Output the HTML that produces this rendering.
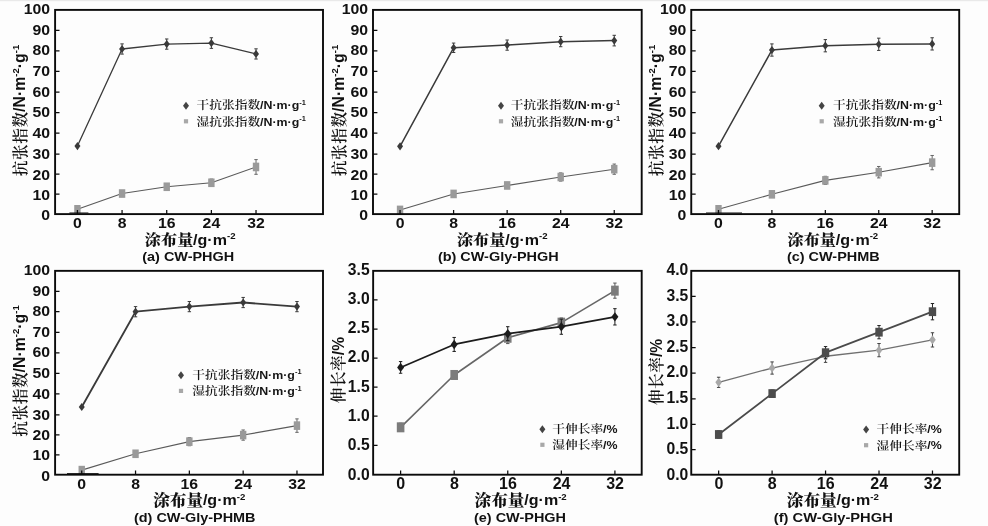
<!DOCTYPE html>
<html lang="zh"><head><meta charset="utf-8"><title>Figure</title>
<style>html,body{margin:0;padding:0;background:#fdfdfd;}body{width:988px;height:526px;overflow:hidden;}svg{display:block;will-change:transform;}</style>
</head><body>
<svg width="988" height="526" viewBox="0 0 988 526">
<rect x="0" y="0" width="988" height="526" fill="#fdfdfd"/>
<rect x="0" y="0" width="988" height="1.2" fill="#e9e9e9"/>
<g>
<polyline fill="none" stroke="#5a5a5a" stroke-width="1.1" stroke-linejoin="round" points="77.42,209.31 122.07,193.53 166.72,186.76 211.38,182.78 256.02,166.95"/>
<path d="M77.42 206.24V212.37M75.72 206.24H79.12M75.72 212.37H79.12M122.07 190.47V196.6M120.37 190.47H123.77M120.37 196.6H123.77M166.72 183.7V189.82M165.03 183.7H168.42M165.03 189.82H168.42M211.38 179.1V186.45M209.68 179.1H213.07M209.68 186.45H213.07M256.02 159.6V174.3M254.32 159.6H257.72M254.32 174.3H257.72" stroke="#666" stroke-width="1" fill="none"/>
<rect x="74.22" y="205.01" width="6.4" height="8.6" fill="#9a9a9a"/>
<rect x="118.87" y="189.23" width="6.4" height="8.6" fill="#9a9a9a"/>
<rect x="163.53" y="182.46" width="6.4" height="8.6" fill="#9a9a9a"/>
<rect x="208.18" y="178.48" width="6.4" height="8.6" fill="#9a9a9a"/>
<rect x="252.82" y="162.65" width="6.4" height="8.6" fill="#9a9a9a"/>
<polyline fill="none" stroke="#3a3a3a" stroke-width="1.3" stroke-linejoin="round" points="77.42,146.09 122.07,49 166.72,44.08 211.38,43.06 256.02,53.93"/>
<path d="M122.07 43.89V54.1M120.37 43.89H123.77M120.37 54.1H123.77M166.72 38.98V49.19M165.03 38.98H168.42M165.03 49.19H168.42M211.38 37.75V48.37M209.68 37.75H213.07M209.68 48.37H213.07M256.02 48.83V59.04M254.32 48.83H257.72M254.32 59.04H257.72" stroke="#3a3a3a" stroke-width="1" fill="none"/>
<path d="M77.42 141.99L80.42 146.09L77.42 150.19L74.42 146.09Z" fill="#3a3a3a"/>
<path d="M122.07 44.9L125.07 49L122.07 53.1L119.07 49Z" fill="#3a3a3a"/>
<path d="M166.72 39.98L169.72 44.08L166.72 48.18L163.72 44.08Z" fill="#3a3a3a"/>
<path d="M211.38 38.96L214.38 43.06L211.38 47.16L208.38 43.06Z" fill="#3a3a3a"/>
<path d="M256.02 49.83L259.02 53.93L256.02 58.03L253.02 53.93Z" fill="#3a3a3a"/>
<rect x="55.1" y="9.9" width="267.9" height="204.2" fill="none" stroke="#0b0b0b" stroke-width="1.9"/>
<path d="M69.4 212.95H88.4" stroke="#0b0b0b" stroke-width="0.9" fill="none"/>
<path d="M77.42 214.1v-4.2M122.07 214.1v-4.2M166.72 214.1v-4.2M211.38 214.1v-4.2M256.02 214.1v-4.2M55.1 194.13h4.4M55.1 174.21h4.4M55.1 154.04h4.4M55.1 133.12h4.4M55.1 112.6h4.4M55.1 92.08h4.4M55.1 71.46h4.4M55.1 50.84h4.4M55.1 30.37h4.4" stroke="#0b0b0b" stroke-width="1.25" fill="none"/>
<text transform="translate(77.42 228) scale(1.02 1)" text-anchor="middle" font-family='"Liberation Sans", sans-serif' font-weight="bold" font-size="15.5" fill="#111">0</text>
<text transform="translate(122.07 228) scale(1.02 1)" text-anchor="middle" font-family='"Liberation Sans", sans-serif' font-weight="bold" font-size="15.5" fill="#111">8</text>
<text transform="translate(166.72 228) scale(1.02 1)" text-anchor="middle" font-family='"Liberation Sans", sans-serif' font-weight="bold" font-size="15.5" fill="#111">16</text>
<text transform="translate(211.38 228) scale(1.02 1)" text-anchor="middle" font-family='"Liberation Sans", sans-serif' font-weight="bold" font-size="15.5" fill="#111">24</text>
<text transform="translate(256.02 228) scale(1.02 1)" text-anchor="middle" font-family='"Liberation Sans", sans-serif' font-weight="bold" font-size="15.5" fill="#111">32</text>
<text transform="translate(50.1 219.9) scale(1.02 1)" text-anchor="end" font-family='"Liberation Sans", sans-serif' font-weight="bold" font-size="15.5" fill="#111">0</text>
<text transform="translate(50.1 199.69) scale(1.02 1)" text-anchor="end" font-family='"Liberation Sans", sans-serif' font-weight="bold" font-size="15.5" fill="#111">10</text>
<text transform="translate(50.1 179.53) scale(1.02 1)" text-anchor="end" font-family='"Liberation Sans", sans-serif' font-weight="bold" font-size="15.5" fill="#111">20</text>
<text transform="translate(50.1 159.12) scale(1.02 1)" text-anchor="end" font-family='"Liberation Sans", sans-serif' font-weight="bold" font-size="15.5" fill="#111">30</text>
<text transform="translate(50.1 137.96) scale(1.02 1)" text-anchor="end" font-family='"Liberation Sans", sans-serif' font-weight="bold" font-size="15.5" fill="#111">40</text>
<text transform="translate(50.1 117.2) scale(1.02 1)" text-anchor="end" font-family='"Liberation Sans", sans-serif' font-weight="bold" font-size="15.5" fill="#111">50</text>
<text transform="translate(50.1 96.68) scale(1.02 1)" text-anchor="end" font-family='"Liberation Sans", sans-serif' font-weight="bold" font-size="15.5" fill="#111">60</text>
<text transform="translate(50.1 76.06) scale(1.02 1)" text-anchor="end" font-family='"Liberation Sans", sans-serif' font-weight="bold" font-size="15.5" fill="#111">70</text>
<text transform="translate(50.1 55.44) scale(1.02 1)" text-anchor="end" font-family='"Liberation Sans", sans-serif' font-weight="bold" font-size="15.5" fill="#111">80</text>
<text transform="translate(50.1 34.97) scale(1.02 1)" text-anchor="end" font-family='"Liberation Sans", sans-serif' font-weight="bold" font-size="15.5" fill="#111">90</text>
<text transform="translate(50.1 14) scale(1.02 1)" text-anchor="end" font-family='"Liberation Sans", sans-serif' font-weight="bold" font-size="15.5" fill="#111">100</text>
<text transform="translate(193.3 245.2) scale(1.07 1)" text-anchor="end" font-family='"Liberation Serif", "Noto Serif CJK SC", serif' font-weight="900" font-size="15.1" fill="#111">涂布量</text>
<text transform="translate(193.1 244.6) scale(1.1 1)" text-anchor="start" font-family='"Liberation Sans", sans-serif' font-weight="bold" font-size="14.6" fill="#111">/g·m<tspan dy="-5.55" font-size="8.76">-2</tspan></text>
<text transform="translate(188.2 260.9) scale(1.07 1)" text-anchor="middle" font-family='"Liberation Sans", sans-serif' font-weight="bold" font-size="13.5" fill="#111">(a) CW-PHGH</text>
<g transform="translate(25.2 111.9) rotate(-90)" fill="#111">
<text x="0.5" y="0.8" text-anchor="end" font-family='"Liberation Serif", "Noto Serif CJK SC", serif' font-weight="600" font-size="15.6" letter-spacing="0.6">抗张指数</text>
<text x="0" y="0" font-family='"Liberation Sans", sans-serif' font-weight="bold" font-size="15.85">/N·m<tspan dy="-6.02" font-size="9.51">-2</tspan><tspan dy="6.02">·g</tspan><tspan dy="-6.02" font-size="9.51">-1</tspan></text>
</g>
<path d="M186 101.7L189 105.7L186 109.7L183 105.7Z" fill="#444"/>
<text transform="translate(196.6 109.4) scale(1.07 1)" text-anchor="start" font-family='"Liberation Serif", "Noto Serif CJK SC", serif' font-weight="600" font-size="11.9" fill="#151515">干抗张指数</text>
<text transform="translate(260 109.1) scale(1.06 1)" text-anchor="start" font-family='"Liberation Sans", sans-serif' font-weight="bold" font-size="11.7" fill="#151515">/N·m·g<tspan dy="-4.45" font-size="7.02">-1</tspan></text>
<rect x="183.9" y="119.2" width="4.2" height="4.2" fill="#a8a8a8"/>
<text transform="translate(196.6 125.8) scale(1.07 1)" text-anchor="start" font-family='"Liberation Serif", "Noto Serif CJK SC", serif' font-weight="600" font-size="11.9" fill="#151515">湿抗张指数</text>
<text transform="translate(260 125.5) scale(1.06 1)" text-anchor="start" font-family='"Liberation Sans", sans-serif' font-weight="bold" font-size="11.7" fill="#151515">/N·m·g<tspan dy="-4.45" font-size="7.02">-1</tspan></text>
</g>
<g>
<polyline fill="none" stroke="#5a5a5a" stroke-width="1.1" stroke-linejoin="round" points="400.04,209.91 453.6,193.93 507.15,185.46 560.7,177 614.25,169.17"/>
<path d="M400.04 207.46V212.36M398.34 207.46H401.74M398.34 212.36H401.74M453.6 190.87V196.99M451.9 190.87H455.3M451.9 196.99H455.3M507.15 182.4V188.53M505.45 182.4H508.85M505.45 188.53H508.85M560.7 172.91V181.08M559 172.91H562.4M559 181.08H562.4M614.25 164.06V174.27M612.55 164.06H615.95M612.55 174.27H615.95" stroke="#666" stroke-width="1" fill="none"/>
<rect x="396.84" y="205.61" width="6.4" height="8.6" fill="#9a9a9a"/>
<rect x="450.4" y="189.63" width="6.4" height="8.6" fill="#9a9a9a"/>
<rect x="503.95" y="181.16" width="6.4" height="8.6" fill="#9a9a9a"/>
<rect x="557.5" y="172.7" width="6.4" height="8.6" fill="#9a9a9a"/>
<rect x="611.05" y="164.87" width="6.4" height="8.6" fill="#9a9a9a"/>
<polyline fill="none" stroke="#3a3a3a" stroke-width="1.5" stroke-linejoin="round" points="400.04,146.3 453.6,47.77 507.15,45.11 560.7,41.63 614.25,40.61"/>
<path d="M453.6 43.07V52.47M451.9 43.07H455.3M451.9 52.47H455.3M507.15 40V50.21M505.45 40H508.85M505.45 50.21H508.85M560.7 36.52V46.73M559 36.52H562.4M559 46.73H562.4M614.25 35.3V45.91M612.55 35.3H615.95M612.55 45.91H615.95" stroke="#3a3a3a" stroke-width="1" fill="none"/>
<path d="M400.04 142.2L403.04 146.3L400.04 150.4L397.04 146.3Z" fill="#3a3a3a"/>
<path d="M453.6 43.67L456.6 47.77L453.6 51.87L450.6 47.77Z" fill="#3a3a3a"/>
<path d="M507.15 41.01L510.15 45.11L507.15 49.21L504.15 45.11Z" fill="#3a3a3a"/>
<path d="M560.7 37.53L563.7 41.63L560.7 45.73L557.7 41.63Z" fill="#3a3a3a"/>
<path d="M614.25 36.51L617.25 40.61L614.25 44.71L611.25 40.61Z" fill="#3a3a3a"/>
<rect x="373" y="9.9" width="268.7" height="204.2" fill="none" stroke="#0b0b0b" stroke-width="1.9"/>
<path d="M400.04 214.1v-4.2M453.6 214.1v-4.2M507.15 214.1v-4.2M560.7 214.1v-4.2M614.25 214.1v-4.2M373 194.13h4.4M373 174.21h4.4M373 154.04h4.4M373 133.12h4.4M373 112.6h4.4M373 92.08h4.4M373 71.46h4.4M373 50.84h4.4M373 30.37h4.4" stroke="#0b0b0b" stroke-width="1.25" fill="none"/>
<text transform="translate(400.04 228) scale(1.02 1)" text-anchor="middle" font-family='"Liberation Sans", sans-serif' font-weight="bold" font-size="15.5" fill="#111">0</text>
<text transform="translate(453.6 228) scale(1.02 1)" text-anchor="middle" font-family='"Liberation Sans", sans-serif' font-weight="bold" font-size="15.5" fill="#111">8</text>
<text transform="translate(507.15 228) scale(1.02 1)" text-anchor="middle" font-family='"Liberation Sans", sans-serif' font-weight="bold" font-size="15.5" fill="#111">16</text>
<text transform="translate(560.7 228) scale(1.02 1)" text-anchor="middle" font-family='"Liberation Sans", sans-serif' font-weight="bold" font-size="15.5" fill="#111">24</text>
<text transform="translate(614.25 228) scale(1.02 1)" text-anchor="middle" font-family='"Liberation Sans", sans-serif' font-weight="bold" font-size="15.5" fill="#111">32</text>
<text transform="translate(368 219.9) scale(1.02 1)" text-anchor="end" font-family='"Liberation Sans", sans-serif' font-weight="bold" font-size="15.5" fill="#111">0</text>
<text transform="translate(368 199.69) scale(1.02 1)" text-anchor="end" font-family='"Liberation Sans", sans-serif' font-weight="bold" font-size="15.5" fill="#111">10</text>
<text transform="translate(368 179.53) scale(1.02 1)" text-anchor="end" font-family='"Liberation Sans", sans-serif' font-weight="bold" font-size="15.5" fill="#111">20</text>
<text transform="translate(368 159.12) scale(1.02 1)" text-anchor="end" font-family='"Liberation Sans", sans-serif' font-weight="bold" font-size="15.5" fill="#111">30</text>
<text transform="translate(368 137.96) scale(1.02 1)" text-anchor="end" font-family='"Liberation Sans", sans-serif' font-weight="bold" font-size="15.5" fill="#111">40</text>
<text transform="translate(368 117.2) scale(1.02 1)" text-anchor="end" font-family='"Liberation Sans", sans-serif' font-weight="bold" font-size="15.5" fill="#111">50</text>
<text transform="translate(368 96.68) scale(1.02 1)" text-anchor="end" font-family='"Liberation Sans", sans-serif' font-weight="bold" font-size="15.5" fill="#111">60</text>
<text transform="translate(368 76.06) scale(1.02 1)" text-anchor="end" font-family='"Liberation Sans", sans-serif' font-weight="bold" font-size="15.5" fill="#111">70</text>
<text transform="translate(368 55.44) scale(1.02 1)" text-anchor="end" font-family='"Liberation Sans", sans-serif' font-weight="bold" font-size="15.5" fill="#111">80</text>
<text transform="translate(368 34.97) scale(1.02 1)" text-anchor="end" font-family='"Liberation Sans", sans-serif' font-weight="bold" font-size="15.5" fill="#111">90</text>
<text transform="translate(368 14) scale(1.02 1)" text-anchor="end" font-family='"Liberation Sans", sans-serif' font-weight="bold" font-size="15.5" fill="#111">100</text>
<text transform="translate(505.4 245.2) scale(1.07 1)" text-anchor="end" font-family='"Liberation Serif", "Noto Serif CJK SC", serif' font-weight="900" font-size="15.1" fill="#111">涂布量</text>
<text transform="translate(505.2 244.6) scale(1.1 1)" text-anchor="start" font-family='"Liberation Sans", sans-serif' font-weight="bold" font-size="14.6" fill="#111">/g·m<tspan dy="-5.55" font-size="8.76">-2</tspan></text>
<text transform="translate(498.3 260.9) scale(1.07 1)" text-anchor="middle" font-family='"Liberation Sans", sans-serif' font-weight="bold" font-size="13.5" fill="#111">(b) CW-Gly-PHGH</text>
<g transform="translate(343.7 111.9) rotate(-90)" fill="#111">
<text x="0.5" y="0.8" text-anchor="end" font-family='"Liberation Serif", "Noto Serif CJK SC", serif' font-weight="600" font-size="15.6" letter-spacing="0.6">抗张指数</text>
<text x="0" y="0" font-family='"Liberation Sans", sans-serif' font-weight="bold" font-size="15.85">/N·m<tspan dy="-6.02" font-size="9.51">-2</tspan><tspan dy="6.02">·g</tspan><tspan dy="-6.02" font-size="9.51">-1</tspan></text>
</g>
<path d="M501 101.7L504 105.7L501 109.7L498 105.7Z" fill="#444"/>
<text transform="translate(510.8 109.4) scale(1.07 1)" text-anchor="start" font-family='"Liberation Serif", "Noto Serif CJK SC", serif' font-weight="600" font-size="11.9" fill="#151515">干抗张指数</text>
<text transform="translate(574.2 109.1) scale(1.06 1)" text-anchor="start" font-family='"Liberation Sans", sans-serif' font-weight="bold" font-size="11.7" fill="#151515">/N·m·g<tspan dy="-4.45" font-size="7.02">-1</tspan></text>
<rect x="498.9" y="119.2" width="4.2" height="4.2" fill="#a8a8a8"/>
<text transform="translate(510.8 125.8) scale(1.07 1)" text-anchor="start" font-family='"Liberation Serif", "Noto Serif CJK SC", serif' font-weight="600" font-size="11.9" fill="#151515">湿抗张指数</text>
<text transform="translate(574.2 125.5) scale(1.06 1)" text-anchor="start" font-family='"Liberation Sans", sans-serif' font-weight="bold" font-size="11.7" fill="#151515">/N·m·g<tspan dy="-4.45" font-size="7.02">-1</tspan></text>
</g>
<g>
<polyline fill="none" stroke="#5a5a5a" stroke-width="1.1" stroke-linejoin="round" points="718.49,209.31 771.91,194.33 825.33,180.39 878.74,172.19 932.16,162.61"/>
<path d="M718.49 206.86V211.76M716.79 206.86H720.19M716.79 211.76H720.19M771.91 191.27V197.39M770.21 191.27H773.61M770.21 197.39H773.61M825.33 176.3V184.47M823.63 176.3H827.03M823.63 184.47H827.03M878.74 166.48V177.91M877.04 166.48H880.44M877.04 177.91H880.44M932.16 155.47V169.76M930.46 155.47H933.86M930.46 169.76H933.86" stroke="#666" stroke-width="1" fill="none"/>
<rect x="715.29" y="205.01" width="6.4" height="8.6" fill="#9a9a9a"/>
<rect x="768.71" y="190.03" width="6.4" height="8.6" fill="#9a9a9a"/>
<rect x="822.13" y="176.09" width="6.4" height="8.6" fill="#9a9a9a"/>
<rect x="875.54" y="167.89" width="6.4" height="8.6" fill="#9a9a9a"/>
<rect x="928.96" y="158.31" width="6.4" height="8.6" fill="#9a9a9a"/>
<polyline fill="none" stroke="#3a3a3a" stroke-width="1.5" stroke-linejoin="round" points="718.49,146.19 771.91,50.02 825.33,45.72 878.74,44.29 932.16,43.88"/>
<path d="M771.91 43.9V56.15M770.21 43.9H773.61M770.21 56.15H773.61M825.33 39.6V51.85M823.63 39.6H827.03M823.63 51.85H827.03M878.74 38.16V50.42M877.04 38.16H880.44M877.04 50.42H880.44M932.16 37.75V50.01M930.46 37.75H933.86M930.46 50.01H933.86" stroke="#3a3a3a" stroke-width="1" fill="none"/>
<path d="M718.49 142.09L721.49 146.19L718.49 150.29L715.49 146.19Z" fill="#3a3a3a"/>
<path d="M771.91 45.92L774.91 50.02L771.91 54.12L768.91 50.02Z" fill="#3a3a3a"/>
<path d="M825.33 41.62L828.33 45.72L825.33 49.82L822.33 45.72Z" fill="#3a3a3a"/>
<path d="M878.74 40.19L881.74 44.29L878.74 48.39L875.74 44.29Z" fill="#3a3a3a"/>
<path d="M932.16 39.78L935.16 43.88L932.16 47.98L929.16 43.88Z" fill="#3a3a3a"/>
<rect x="691.25" y="9.9" width="267.95" height="204.2" fill="none" stroke="#0b0b0b" stroke-width="1.9"/>
<path d="M706 212.95H742" stroke="#0b0b0b" stroke-width="0.9" fill="none"/>
<path d="M718.49 214.1v-4.2M771.91 214.1v-4.2M825.33 214.1v-4.2M878.74 214.1v-4.2M932.16 214.1v-4.2M691.25 194.13h4.4M691.25 174.21h4.4M691.25 154.04h4.4M691.25 133.12h4.4M691.25 112.6h4.4M691.25 92.08h4.4M691.25 71.46h4.4M691.25 50.84h4.4M691.25 30.37h4.4" stroke="#0b0b0b" stroke-width="1.25" fill="none"/>
<text transform="translate(718.49 228) scale(1.02 1)" text-anchor="middle" font-family='"Liberation Sans", sans-serif' font-weight="bold" font-size="15.5" fill="#111">0</text>
<text transform="translate(771.91 228) scale(1.02 1)" text-anchor="middle" font-family='"Liberation Sans", sans-serif' font-weight="bold" font-size="15.5" fill="#111">8</text>
<text transform="translate(825.33 228) scale(1.02 1)" text-anchor="middle" font-family='"Liberation Sans", sans-serif' font-weight="bold" font-size="15.5" fill="#111">16</text>
<text transform="translate(878.74 228) scale(1.02 1)" text-anchor="middle" font-family='"Liberation Sans", sans-serif' font-weight="bold" font-size="15.5" fill="#111">24</text>
<text transform="translate(932.16 228) scale(1.02 1)" text-anchor="middle" font-family='"Liberation Sans", sans-serif' font-weight="bold" font-size="15.5" fill="#111">32</text>
<text transform="translate(686.25 219.9) scale(1.02 1)" text-anchor="end" font-family='"Liberation Sans", sans-serif' font-weight="bold" font-size="15.5" fill="#111">0</text>
<text transform="translate(686.25 199.69) scale(1.02 1)" text-anchor="end" font-family='"Liberation Sans", sans-serif' font-weight="bold" font-size="15.5" fill="#111">10</text>
<text transform="translate(686.25 179.53) scale(1.02 1)" text-anchor="end" font-family='"Liberation Sans", sans-serif' font-weight="bold" font-size="15.5" fill="#111">20</text>
<text transform="translate(686.25 159.12) scale(1.02 1)" text-anchor="end" font-family='"Liberation Sans", sans-serif' font-weight="bold" font-size="15.5" fill="#111">30</text>
<text transform="translate(686.25 137.96) scale(1.02 1)" text-anchor="end" font-family='"Liberation Sans", sans-serif' font-weight="bold" font-size="15.5" fill="#111">40</text>
<text transform="translate(686.25 117.2) scale(1.02 1)" text-anchor="end" font-family='"Liberation Sans", sans-serif' font-weight="bold" font-size="15.5" fill="#111">50</text>
<text transform="translate(686.25 96.68) scale(1.02 1)" text-anchor="end" font-family='"Liberation Sans", sans-serif' font-weight="bold" font-size="15.5" fill="#111">60</text>
<text transform="translate(686.25 76.06) scale(1.02 1)" text-anchor="end" font-family='"Liberation Sans", sans-serif' font-weight="bold" font-size="15.5" fill="#111">70</text>
<text transform="translate(686.25 55.44) scale(1.02 1)" text-anchor="end" font-family='"Liberation Sans", sans-serif' font-weight="bold" font-size="15.5" fill="#111">80</text>
<text transform="translate(686.25 34.97) scale(1.02 1)" text-anchor="end" font-family='"Liberation Sans", sans-serif' font-weight="bold" font-size="15.5" fill="#111">90</text>
<text transform="translate(686.25 14) scale(1.02 1)" text-anchor="end" font-family='"Liberation Sans", sans-serif' font-weight="bold" font-size="15.5" fill="#111">100</text>
<text transform="translate(836 245.2) scale(1.07 1)" text-anchor="end" font-family='"Liberation Serif", "Noto Serif CJK SC", serif' font-weight="900" font-size="15.1" fill="#111">涂布量</text>
<text transform="translate(835.8 244.6) scale(1.1 1)" text-anchor="start" font-family='"Liberation Sans", sans-serif' font-weight="bold" font-size="14.6" fill="#111">/g·m<tspan dy="-5.55" font-size="8.76">-2</tspan></text>
<text transform="translate(833.3 260.9) scale(1.07 1)" text-anchor="middle" font-family='"Liberation Sans", sans-serif' font-weight="bold" font-size="13.5" fill="#111">(c) CW-PHMB</text>
<g transform="translate(661.3 111.9) rotate(-90)" fill="#111">
<text x="0.5" y="0.8" text-anchor="end" font-family='"Liberation Serif", "Noto Serif CJK SC", serif' font-weight="600" font-size="15.6" letter-spacing="0.6">抗张指数</text>
<text x="0" y="0" font-family='"Liberation Sans", sans-serif' font-weight="bold" font-size="15.85">/N·m<tspan dy="-6.02" font-size="9.51">-2</tspan><tspan dy="6.02">·g</tspan><tspan dy="-6.02" font-size="9.51">-1</tspan></text>
</g>
<path d="M821.7 101.7L824.7 105.7L821.7 109.7L818.7 105.7Z" fill="#444"/>
<text transform="translate(833.1 109.4) scale(1.07 1)" text-anchor="start" font-family='"Liberation Serif", "Noto Serif CJK SC", serif' font-weight="600" font-size="11.9" fill="#151515">干抗张指数</text>
<text transform="translate(896.5 109.1) scale(1.06 1)" text-anchor="start" font-family='"Liberation Sans", sans-serif' font-weight="bold" font-size="11.7" fill="#151515">/N·m·g<tspan dy="-4.45" font-size="7.02">-1</tspan></text>
<rect x="819.6" y="119.2" width="4.2" height="4.2" fill="#a8a8a8"/>
<text transform="translate(833.1 125.8) scale(1.07 1)" text-anchor="start" font-family='"Liberation Serif", "Noto Serif CJK SC", serif' font-weight="600" font-size="11.9" fill="#151515">湿抗张指数</text>
<text transform="translate(896.5 125.5) scale(1.06 1)" text-anchor="start" font-family='"Liberation Sans", sans-serif' font-weight="bold" font-size="11.7" fill="#151515">/N·m·g<tspan dy="-4.45" font-size="7.02">-1</tspan></text>
</g>
<g>
<polyline fill="none" stroke="#5a5a5a" stroke-width="1.1" stroke-linejoin="round" points="81.74,470.11 135.54,453.77 189.35,441.64 243.16,435.08 296.97,425.62"/>
<path d="M81.74 467.67V472.56M80.04 467.67H83.44M80.04 472.56H83.44M135.54 450.71V456.83M133.84 450.71H137.24M133.84 456.83H137.24M189.35 437.56V445.72M187.65 437.56H191.05M187.65 445.72H191.05M243.16 429.98V440.18M241.46 429.98H244.86M241.46 440.18H244.86M296.97 418.89V432.34M295.27 418.89H298.67M295.27 432.34H298.67" stroke="#666" stroke-width="1" fill="none"/>
<rect x="78.54" y="465.81" width="6.4" height="8.6" fill="#9a9a9a"/>
<rect x="132.34" y="449.47" width="6.4" height="8.6" fill="#9a9a9a"/>
<rect x="186.15" y="437.34" width="6.4" height="8.6" fill="#9a9a9a"/>
<rect x="239.96" y="430.78" width="6.4" height="8.6" fill="#9a9a9a"/>
<rect x="293.77" y="421.32" width="6.4" height="8.6" fill="#9a9a9a"/>
<polyline fill="none" stroke="#3a3a3a" stroke-width="1.8" stroke-linejoin="round" points="81.74,407.02 135.54,311.72 189.35,306.61 243.16,302.52 296.97,306.61"/>
<path d="M135.54 306.62V316.82M133.84 306.62H137.24M133.84 316.82H137.24M189.35 301.52V311.71M187.65 301.52H191.05M187.65 311.71H191.05M243.16 297.43V307.62M241.46 297.43H244.86M241.46 307.62H244.86M296.97 301.52V311.71M295.27 301.52H298.67M295.27 311.71H298.67" stroke="#3a3a3a" stroke-width="1" fill="none"/>
<path d="M81.74 402.92L84.74 407.02L81.74 411.12L78.74 407.02Z" fill="#3a3a3a"/>
<path d="M135.54 307.62L138.54 311.72L135.54 315.82L132.54 311.72Z" fill="#3a3a3a"/>
<path d="M189.35 302.51L192.35 306.61L189.35 310.71L186.35 306.61Z" fill="#3a3a3a"/>
<path d="M243.16 298.42L246.16 302.52L243.16 306.62L240.16 302.52Z" fill="#3a3a3a"/>
<path d="M296.97 302.51L299.97 306.61L296.97 310.71L293.97 306.61Z" fill="#3a3a3a"/>
<rect x="55.1" y="270.85" width="267.9" height="203.85" fill="none" stroke="#0b0b0b" stroke-width="1.9"/>
<path d="M67 473.55H98.6" stroke="#0b0b0b" stroke-width="0.9" fill="none"/>
<path d="M81.74 474.7v-4.2M135.54 474.7v-4.2M189.35 474.7v-4.2M243.16 474.7v-4.2M296.97 474.7v-4.2M55.1 454.76h4.4M55.1 434.88h4.4M55.1 414.75h4.4M55.1 393.86h4.4M55.1 373.38h4.4M55.1 352.89h4.4M55.1 332.31h4.4M55.1 311.72h4.4M55.1 291.29h4.4" stroke="#0b0b0b" stroke-width="1.25" fill="none"/>
<text transform="translate(81.74 488.6) scale(1.02 1)" text-anchor="middle" font-family='"Liberation Sans", sans-serif' font-weight="bold" font-size="15.5" fill="#111">0</text>
<text transform="translate(135.54 488.6) scale(1.02 1)" text-anchor="middle" font-family='"Liberation Sans", sans-serif' font-weight="bold" font-size="15.5" fill="#111">8</text>
<text transform="translate(189.35 488.6) scale(1.02 1)" text-anchor="middle" font-family='"Liberation Sans", sans-serif' font-weight="bold" font-size="15.5" fill="#111">16</text>
<text transform="translate(243.16 488.6) scale(1.02 1)" text-anchor="middle" font-family='"Liberation Sans", sans-serif' font-weight="bold" font-size="15.5" fill="#111">24</text>
<text transform="translate(296.97 488.6) scale(1.02 1)" text-anchor="middle" font-family='"Liberation Sans", sans-serif' font-weight="bold" font-size="15.5" fill="#111">32</text>
<text transform="translate(50.1 480.5) scale(1.02 1)" text-anchor="end" font-family='"Liberation Sans", sans-serif' font-weight="bold" font-size="15.5" fill="#111">0</text>
<text transform="translate(50.1 460.32) scale(1.02 1)" text-anchor="end" font-family='"Liberation Sans", sans-serif' font-weight="bold" font-size="15.5" fill="#111">10</text>
<text transform="translate(50.1 440.2) scale(1.02 1)" text-anchor="end" font-family='"Liberation Sans", sans-serif' font-weight="bold" font-size="15.5" fill="#111">20</text>
<text transform="translate(50.1 419.83) scale(1.02 1)" text-anchor="end" font-family='"Liberation Sans", sans-serif' font-weight="bold" font-size="15.5" fill="#111">30</text>
<text transform="translate(50.1 398.7) scale(1.02 1)" text-anchor="end" font-family='"Liberation Sans", sans-serif' font-weight="bold" font-size="15.5" fill="#111">40</text>
<text transform="translate(50.1 377.98) scale(1.02 1)" text-anchor="end" font-family='"Liberation Sans", sans-serif' font-weight="bold" font-size="15.5" fill="#111">50</text>
<text transform="translate(50.1 357.49) scale(1.02 1)" text-anchor="end" font-family='"Liberation Sans", sans-serif' font-weight="bold" font-size="15.5" fill="#111">60</text>
<text transform="translate(50.1 336.91) scale(1.02 1)" text-anchor="end" font-family='"Liberation Sans", sans-serif' font-weight="bold" font-size="15.5" fill="#111">70</text>
<text transform="translate(50.1 316.32) scale(1.02 1)" text-anchor="end" font-family='"Liberation Sans", sans-serif' font-weight="bold" font-size="15.5" fill="#111">80</text>
<text transform="translate(50.1 295.89) scale(1.02 1)" text-anchor="end" font-family='"Liberation Sans", sans-serif' font-weight="bold" font-size="15.5" fill="#111">90</text>
<text transform="translate(50.1 274.95) scale(1.02 1)" text-anchor="end" font-family='"Liberation Sans", sans-serif' font-weight="bold" font-size="15.5" fill="#111">100</text>
<text transform="translate(203.1 505.8) scale(1.07 1)" text-anchor="end" font-family='"Liberation Serif", "Noto Serif CJK SC", serif' font-weight="900" font-size="15.55" fill="#111">涂布量</text>
<text transform="translate(202.9 505.2) scale(1.1 1)" text-anchor="start" font-family='"Liberation Sans", sans-serif' font-weight="bold" font-size="14.6" fill="#111">/g·m<tspan dy="-5.55" font-size="8.76">-2</tspan></text>
<text transform="translate(194.75 521.5) scale(1.07 1)" text-anchor="middle" font-family='"Liberation Sans", sans-serif' font-weight="bold" font-size="13.5" fill="#111">(d) CW-Gly-PHMB</text>
<g transform="translate(25.2 372.4) rotate(-90)" fill="#111">
<text x="0.5" y="0.8" text-anchor="end" font-family='"Liberation Serif", "Noto Serif CJK SC", serif' font-weight="600" font-size="15.6" letter-spacing="0.6">抗张指数</text>
<text x="0" y="0" font-family='"Liberation Sans", sans-serif' font-weight="bold" font-size="15.85">/N·m<tspan dy="-6.02" font-size="9.51">-2</tspan><tspan dy="6.02">·g</tspan><tspan dy="-6.02" font-size="9.51">-1</tspan></text>
</g>
<path d="M181 371.3L184 375.3L181 379.3L178 375.3Z" fill="#444"/>
<text transform="translate(192.3 379) scale(1.07 1)" text-anchor="start" font-family='"Liberation Serif", "Noto Serif CJK SC", serif' font-weight="600" font-size="11.9" fill="#151515">干抗张指数</text>
<text transform="translate(255.7 378.7) scale(1.06 1)" text-anchor="start" font-family='"Liberation Sans", sans-serif' font-weight="bold" font-size="11.7" fill="#151515">/N·m·g<tspan dy="-4.45" font-size="7.02">-1</tspan></text>
<rect x="178.9" y="388.8" width="4.2" height="4.2" fill="#a8a8a8"/>
<text transform="translate(192.3 395.4) scale(1.07 1)" text-anchor="start" font-family='"Liberation Serif", "Noto Serif CJK SC", serif' font-weight="600" font-size="11.9" fill="#151515">湿抗张指数</text>
<text transform="translate(255.7 395.1) scale(1.06 1)" text-anchor="start" font-family='"Liberation Sans", sans-serif' font-weight="bold" font-size="11.7" fill="#151515">/N·m·g<tspan dy="-4.45" font-size="7.02">-1</tspan></text>
</g>
<g>
<polyline fill="none" stroke="#666" stroke-width="1.6" stroke-linejoin="round" points="400.61,427.32 454.18,374.98 507.76,337.76 561.34,322.64 614.91,290.64"/>
<path d="M400.61 423.24V431.39M398.91 423.24H402.31M398.91 431.39H402.31M454.18 370.91V379.06M452.48 370.91H455.88M452.48 379.06H455.88M507.76 331.93V343.58M506.06 331.93H509.46M506.06 343.58H509.46M561.34 317.98V327.3M559.64 317.98H563.04M559.64 327.3H563.04M614.91 283.07V298.21M613.21 283.07H616.61M613.21 298.21H616.61" stroke="#555" stroke-width="1" fill="none"/>
<rect x="396.81" y="422.32" width="7.6" height="10" fill="#7c7c7c"/>
<rect x="450.38" y="369.98" width="7.6" height="10" fill="#7c7c7c"/>
<rect x="503.96" y="332.76" width="7.6" height="10" fill="#7c7c7c"/>
<rect x="557.54" y="317.64" width="7.6" height="10" fill="#7c7c7c"/>
<rect x="611.11" y="285.64" width="7.6" height="10" fill="#7c7c7c"/>
<polyline fill="none" stroke="#1c1c1c" stroke-width="1.7" stroke-linejoin="round" points="400.61,367.42 454.18,344.44 507.76,333.69 561.34,326.71 614.91,316.83"/>
<path d="M400.61 361.59V373.24M398.91 361.59H402.31M398.91 373.24H402.31M454.18 337.45V351.43M452.48 337.45H455.88M452.48 351.43H455.88M507.76 326.7V340.68M506.06 326.7H509.46M506.06 340.68H509.46M561.34 319.14V334.28M559.64 319.14H563.04M559.64 334.28H563.04M614.91 308.68V324.99M613.21 308.68H616.61M613.21 324.99H616.61" stroke="#1c1c1c" stroke-width="1" fill="none"/>
<path d="M400.61 362.72L404.11 367.42L400.61 372.12L397.11 367.42Z" fill="#1c1c1c"/>
<path d="M454.18 339.74L457.68 344.44L454.18 349.14L450.68 344.44Z" fill="#1c1c1c"/>
<path d="M507.76 328.99L511.26 333.69L507.76 338.39L504.26 333.69Z" fill="#1c1c1c"/>
<path d="M561.34 322.01L564.84 326.71L561.34 331.41L557.84 326.71Z" fill="#1c1c1c"/>
<path d="M614.91 312.13L618.41 316.83L614.91 321.53L611.41 316.83Z" fill="#1c1c1c"/>
<rect x="373.15" y="270.85" width="268.55" height="203.85" fill="none" stroke="#0b0b0b" stroke-width="1.9"/>
<path d="M400.61 474.7v-4.2M454.18 474.7v-4.2M507.76 474.7v-4.2M561.34 474.7v-4.2M614.91 474.7v-4.2M373.15 445.45h4.4M373.15 416.22h4.4M373.15 387.2h4.4M373.15 358.11h4.4M373.15 329.04h4.4M373.15 299.96h4.4" stroke="#0b0b0b" stroke-width="1.25" fill="none"/>
<text transform="translate(400.81 489.2) scale(1 1)" text-anchor="middle" font-family='"Liberation Sans", sans-serif' font-weight="bold" font-size="16" fill="#111">0</text>
<text transform="translate(454.38 489.2) scale(1 1)" text-anchor="middle" font-family='"Liberation Sans", sans-serif' font-weight="bold" font-size="16" fill="#111">8</text>
<text transform="translate(507.96 489.2) scale(1 1)" text-anchor="middle" font-family='"Liberation Sans", sans-serif' font-weight="bold" font-size="16" fill="#111">16</text>
<text transform="translate(561.54 489.2) scale(1 1)" text-anchor="middle" font-family='"Liberation Sans", sans-serif' font-weight="bold" font-size="16" fill="#111">24</text>
<text transform="translate(615.11 489.2) scale(1 1)" text-anchor="middle" font-family='"Liberation Sans", sans-serif' font-weight="bold" font-size="16" fill="#111">32</text>
<text transform="translate(369.65 479.9) scale(0.98 1)" text-anchor="end" font-family='"Liberation Sans", sans-serif' font-weight="bold" font-size="16" fill="#111">0.0</text>
<text transform="translate(369.65 449.79) scale(0.98 1)" text-anchor="end" font-family='"Liberation Sans", sans-serif' font-weight="bold" font-size="16" fill="#111">0.5</text>
<text transform="translate(369.65 420.52) scale(0.98 1)" text-anchor="end" font-family='"Liberation Sans", sans-serif' font-weight="bold" font-size="16" fill="#111">1.0</text>
<text transform="translate(369.65 391.5) scale(0.98 1)" text-anchor="end" font-family='"Liberation Sans", sans-serif' font-weight="bold" font-size="16" fill="#111">1.5</text>
<text transform="translate(369.65 362.41) scale(0.98 1)" text-anchor="end" font-family='"Liberation Sans", sans-serif' font-weight="bold" font-size="16" fill="#111">2.0</text>
<text transform="translate(369.65 333.34) scale(0.98 1)" text-anchor="end" font-family='"Liberation Sans", sans-serif' font-weight="bold" font-size="16" fill="#111">2.5</text>
<text transform="translate(369.65 304.26) scale(0.98 1)" text-anchor="end" font-family='"Liberation Sans", sans-serif' font-weight="bold" font-size="16" fill="#111">3.0</text>
<text transform="translate(369.65 275.15) scale(0.98 1)" text-anchor="end" font-family='"Liberation Sans", sans-serif' font-weight="bold" font-size="16" fill="#111">3.5</text>
<text transform="translate(524.5 505.8) scale(1.07 1)" text-anchor="end" font-family='"Liberation Serif", "Noto Serif CJK SC", serif' font-weight="900" font-size="15.55" fill="#111">涂布量</text>
<text transform="translate(524.3 505.2) scale(1.1 1)" text-anchor="start" font-family='"Liberation Sans", sans-serif' font-weight="bold" font-size="14.6" fill="#111">/g·m<tspan dy="-5.55" font-size="8.76">-2</tspan></text>
<text transform="translate(520 521.5) scale(1.07 1)" text-anchor="middle" font-family='"Liberation Sans", sans-serif' font-weight="bold" font-size="13.5" fill="#111">(e) CW-PHGH</text>
<g transform="translate(343.6 355.2) rotate(-90)" fill="#111">
<text x="0.5" y="0.8" text-anchor="end" font-family='"Liberation Serif", "Noto Serif CJK SC", serif' font-weight="600" font-size="15.6" letter-spacing="0.6">伸长率</text>
<text x="0" y="0" font-family='"Liberation Sans", sans-serif' font-weight="bold" font-size="15.6">/%</text>
</g>
<path d="M542.4 425.2L545.4 429.2L542.4 433.2L539.4 429.2Z" fill="#444"/>
<text transform="translate(552.3 432.9) scale(1.07 1)" text-anchor="start" font-family='"Liberation Serif", "Noto Serif CJK SC", serif' font-weight="600" font-size="11.9" fill="#151515">干伸长率</text>
<text transform="translate(603.02 432.6) scale(1.06 1)" text-anchor="start" font-family='"Liberation Sans", sans-serif' font-weight="bold" font-size="11.7" fill="#151515">/%</text>
<rect x="540.3" y="442.7" width="4.2" height="4.2" fill="#a8a8a8"/>
<text transform="translate(552.3 449.3) scale(1.07 1)" text-anchor="start" font-family='"Liberation Serif", "Noto Serif CJK SC", serif' font-weight="600" font-size="11.9" fill="#151515">湿伸长率</text>
<text transform="translate(603.02 449) scale(1.06 1)" text-anchor="start" font-family='"Liberation Sans", sans-serif' font-weight="bold" font-size="11.7" fill="#151515">/%</text>
</g>
<g>
<polyline fill="none" stroke="#707070" stroke-width="1.3" stroke-linejoin="round" points="718.65,382.34 772.1,368.02 825.56,356.27 879.02,350.13 932.47,339.87"/>
<path d="M718.65 377.24V387.43M716.95 377.24H720.35M716.95 387.43H720.35M772.1 361.91V374.14M770.4 361.91H773.8M770.4 374.14H773.8M825.56 350.15V362.38M823.86 350.15H827.26M823.86 362.38H827.26M879.02 343.5V356.75M877.32 343.5H880.72M877.32 356.75H880.72M932.47 332.74V347.01M930.77 332.74H934.17M930.77 347.01H934.17" stroke="#444" stroke-width="1" fill="none"/>
<path d="M718.65 377.74L721.95 382.34L718.65 386.94L715.35 382.34Z" fill="#a8a8a8"/>
<path d="M772.1 363.42L775.4 368.02L772.1 372.62L768.8 368.02Z" fill="#a8a8a8"/>
<path d="M825.56 351.67L828.86 356.27L825.56 360.87L822.26 356.27Z" fill="#a8a8a8"/>
<path d="M879.02 345.53L882.32 350.13L879.02 354.73L875.72 350.13Z" fill="#a8a8a8"/>
<path d="M932.47 335.27L935.77 339.87L932.47 344.47L929.17 339.87Z" fill="#a8a8a8"/>
<polyline fill="none" stroke="#4a4a4a" stroke-width="1.75" stroke-linejoin="round" points="718.65,434.5 772.1,393.58 825.56,352.69 879.02,332.19 932.47,311.68"/>
<path d="M718.65 430.93V438.07M716.95 430.93H720.35M716.95 438.07H720.35M772.1 390.01V397.15M770.4 390.01H773.8M770.4 397.15H773.8M825.56 346.57V358.81M823.86 346.57H827.26M823.86 358.81H827.26M879.02 325.56V338.81M877.32 325.56H880.72M877.32 338.81H880.72M932.47 303.53V319.83M930.77 303.53H934.17M930.77 319.83H934.17" stroke="#222" stroke-width="1" fill="none"/>
<rect x="714.95" y="430.1" width="7.4" height="8.8" fill="#4c4c4c"/>
<rect x="768.4" y="389.18" width="7.4" height="8.8" fill="#4c4c4c"/>
<rect x="821.86" y="348.29" width="7.4" height="8.8" fill="#4c4c4c"/>
<rect x="875.32" y="327.79" width="7.4" height="8.8" fill="#4c4c4c"/>
<rect x="928.77" y="307.28" width="7.4" height="8.8" fill="#4c4c4c"/>
<rect x="691.25" y="270.85" width="267.95" height="203.85" fill="none" stroke="#0b0b0b" stroke-width="1.9"/>
<path d="M718.65 474.7v-4.2M772.1 474.7v-4.2M825.56 474.7v-4.2M879.02 474.7v-4.2M932.47 474.7v-4.2M691.25 449.56h4.4M691.25 424.38h4.4M691.25 398.75h4.4M691.25 373.13h4.4M691.25 347.56h4.4M691.25 321.93h4.4M691.25 296.37h4.4" stroke="#0b0b0b" stroke-width="1.25" fill="none"/>
<text transform="translate(718.85 489.2) scale(1 1)" text-anchor="middle" font-family='"Liberation Sans", sans-serif' font-weight="bold" font-size="16" fill="#111">0</text>
<text transform="translate(772.3 489.2) scale(1 1)" text-anchor="middle" font-family='"Liberation Sans", sans-serif' font-weight="bold" font-size="16" fill="#111">8</text>
<text transform="translate(825.76 489.2) scale(1 1)" text-anchor="middle" font-family='"Liberation Sans", sans-serif' font-weight="bold" font-size="16" fill="#111">16</text>
<text transform="translate(879.22 489.2) scale(1 1)" text-anchor="middle" font-family='"Liberation Sans", sans-serif' font-weight="bold" font-size="16" fill="#111">24</text>
<text transform="translate(932.67 489.2) scale(1 1)" text-anchor="middle" font-family='"Liberation Sans", sans-serif' font-weight="bold" font-size="16" fill="#111">32</text>
<text transform="translate(688.25 479.9) scale(0.98 1)" text-anchor="end" font-family='"Liberation Sans", sans-serif' font-weight="bold" font-size="16" fill="#111">0.0</text>
<text transform="translate(688.25 454.01) scale(0.98 1)" text-anchor="end" font-family='"Liberation Sans", sans-serif' font-weight="bold" font-size="16" fill="#111">0.5</text>
<text transform="translate(688.25 428.68) scale(0.98 1)" text-anchor="end" font-family='"Liberation Sans", sans-serif' font-weight="bold" font-size="16" fill="#111">1.0</text>
<text transform="translate(688.25 403.05) scale(0.98 1)" text-anchor="end" font-family='"Liberation Sans", sans-serif' font-weight="bold" font-size="16" fill="#111">1.5</text>
<text transform="translate(688.25 377.44) scale(0.98 1)" text-anchor="end" font-family='"Liberation Sans", sans-serif' font-weight="bold" font-size="16" fill="#111">2.0</text>
<text transform="translate(688.25 351.86) scale(0.98 1)" text-anchor="end" font-family='"Liberation Sans", sans-serif' font-weight="bold" font-size="16" fill="#111">2.5</text>
<text transform="translate(688.25 326.23) scale(0.98 1)" text-anchor="end" font-family='"Liberation Sans", sans-serif' font-weight="bold" font-size="16" fill="#111">3.0</text>
<text transform="translate(688.25 300.67) scale(0.98 1)" text-anchor="end" font-family='"Liberation Sans", sans-serif' font-weight="bold" font-size="16" fill="#111">3.5</text>
<text transform="translate(688.25 275.15) scale(0.98 1)" text-anchor="end" font-family='"Liberation Sans", sans-serif' font-weight="bold" font-size="16" fill="#111">4.0</text>
<text transform="translate(836.7 505.8) scale(1.07 1)" text-anchor="end" font-family='"Liberation Serif", "Noto Serif CJK SC", serif' font-weight="900" font-size="15.55" fill="#111">涂布量</text>
<text transform="translate(836.5 505.2) scale(1.1 1)" text-anchor="start" font-family='"Liberation Sans", sans-serif' font-weight="bold" font-size="14.6" fill="#111">/g·m<tspan dy="-5.55" font-size="8.76">-2</tspan></text>
<text transform="translate(833.3 521.5) scale(1.09 1)" text-anchor="middle" font-family='"Liberation Sans", sans-serif' font-weight="bold" font-size="13.5" fill="#111">(f) CW-Gly-PHGH</text>
<g transform="translate(661.6 357) rotate(-90)" fill="#111">
<text x="0.5" y="0.8" text-anchor="end" font-family='"Liberation Serif", "Noto Serif CJK SC", serif' font-weight="600" font-size="15.6" letter-spacing="0.6">伸长率</text>
<text x="0" y="0" font-family='"Liberation Sans", sans-serif' font-weight="bold" font-size="15.6">/%</text>
</g>
<path d="M866.1 425.6L869.1 429.6L866.1 433.6L863.1 429.6Z" fill="#444"/>
<text transform="translate(876.5 433.3) scale(1.07 1)" text-anchor="start" font-family='"Liberation Serif", "Noto Serif CJK SC", serif' font-weight="600" font-size="11.9" fill="#151515">干伸长率</text>
<text transform="translate(927.22 433) scale(1.06 1)" text-anchor="start" font-family='"Liberation Sans", sans-serif' font-weight="bold" font-size="11.7" fill="#151515">/%</text>
<rect x="864" y="443.1" width="4.2" height="4.2" fill="#a8a8a8"/>
<text transform="translate(876.5 449.7) scale(1.07 1)" text-anchor="start" font-family='"Liberation Serif", "Noto Serif CJK SC", serif' font-weight="600" font-size="11.9" fill="#151515">湿伸长率</text>
<text transform="translate(927.22 449.4) scale(1.06 1)" text-anchor="start" font-family='"Liberation Sans", sans-serif' font-weight="bold" font-size="11.7" fill="#151515">/%</text>
</g>
</svg></body></html>
